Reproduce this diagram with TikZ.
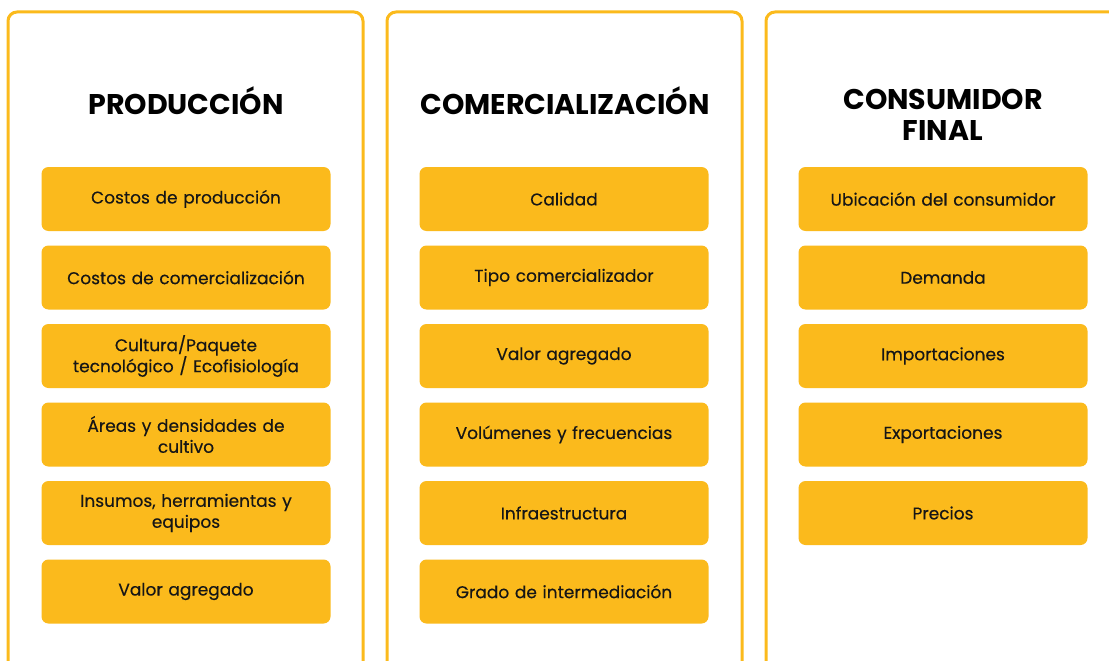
\documentclass[tikz,border=0pt]{standalone}
\usepackage{fontspec}
\setmainfont{Poppins}
\newfontfamily\medio{Poppins}[FakeBold=0.35]
\definecolor{amarillo}{HTML}{FBBA1C}
\definecolor{texto}{HTML}{161616}

\begin{document}
\begin{tikzpicture}[x=1pt, y=-1pt,
  panel/.style={draw=amarillo, line width=3pt, fill=white, rounded corners=9pt},
  titulo/.style={font=\fontsize{28.5}{31}\selectfont\bfseries, align=center, text=black},
  factor/.style={fill=amarillo, rounded corners=7pt, minimum width=289pt,
    minimum height=64pt, inner sep=0pt, text width=270pt, align=center,
    font=\medio\fontsize{17}{21}\selectfont, text=texto}]
  % Frame and clipping (panels run past the lower edge)
  \useasboundingbox (0,0) rectangle (1109,661);
  \clip (0,0) rectangle (1109,661);

  % Panels
  \draw[panel] (8,12) rectangle (363,720);
  \draw[panel] (387,12) rectangle (742,720);
  \draw[panel] (766,12) rectangle (1140,720);

  % Headings
  \node[titulo] (hprod) at (186,101) {PRODUCCIÓN};
  \node[titulo] (hcom) at (565,101) {COMERCIALIZACIÓN};
  \node[titulo] (hcons) at (943,115) {CONSUMIDOR\\FINAL};

  % Factors of each link
  \foreach \t [count=\i] in {Costos de producción, Costos de comercialización,
      {Cultura/Paquete\\tecnológico / Ecofisiología}, {Áreas y densidades de\\cultivo},
      {Insumos, herramientas y\\equipos}, Valor agregado}
    \node[factor] (prod\i) at (186,{199+78.5*(\i-1)}) {\t};

  \foreach \t [count=\i] in {Calidad, Tipo comercializador, Valor agregado,
      Volúmenes y frecuencias, Infraestructura, Grado de intermediación}
    \node[factor] (com\i) at (564,{199+78.5*(\i-1)}) {\t};

  \foreach \t [count=\i] in {Ubicación del consumidor, Demanda, Importaciones,
      Exportaciones, Precios}
    \node[factor] (cons\i) at (943,{199+78.5*(\i-1)}) {\t};
\end{tikzpicture}
\end{document}
